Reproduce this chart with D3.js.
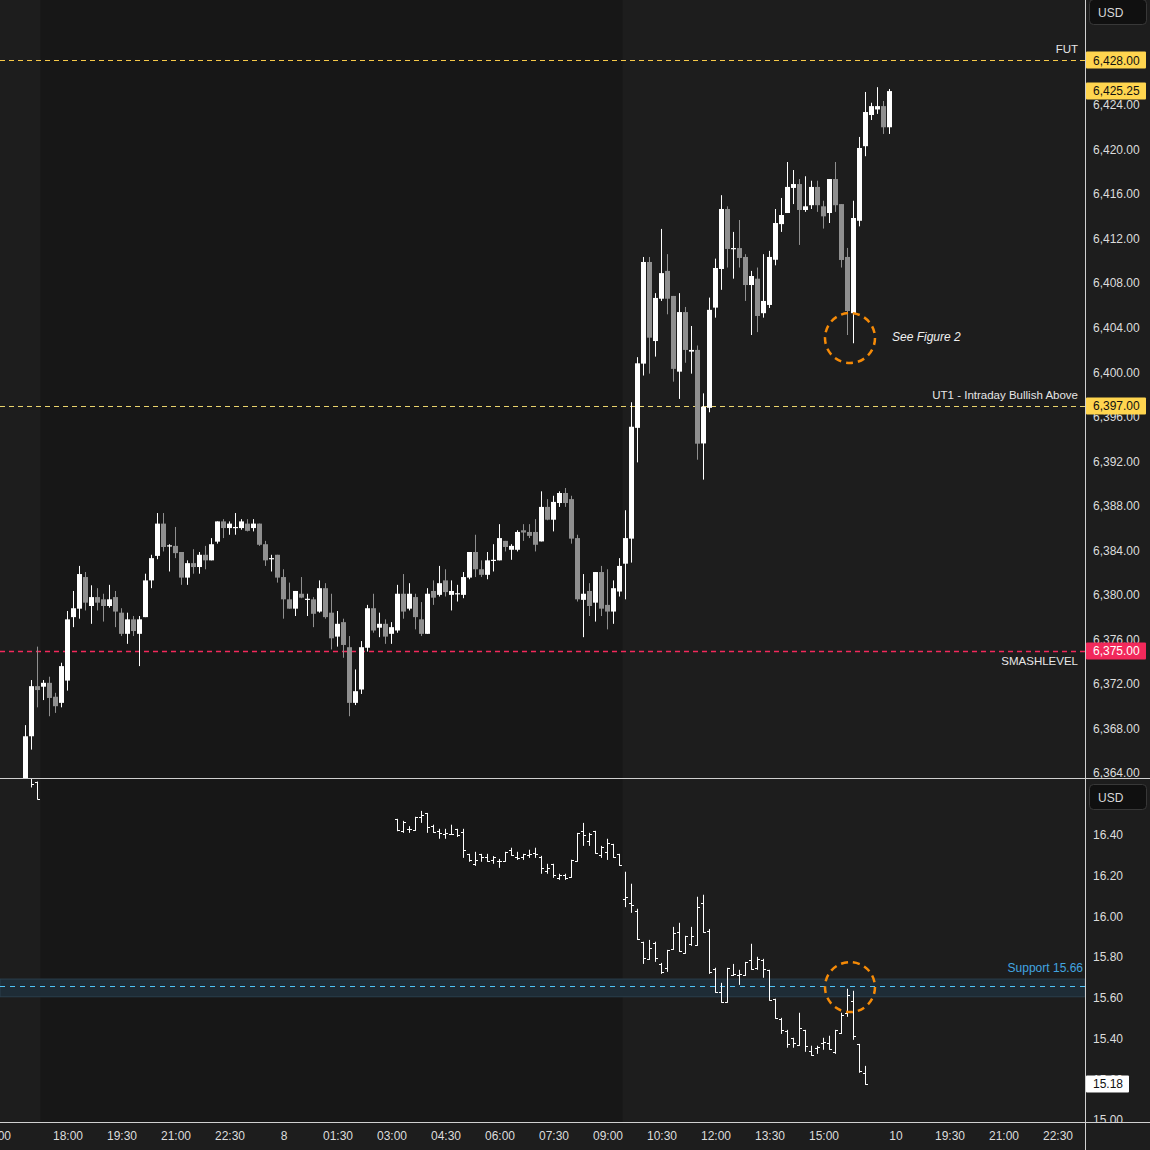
<!DOCTYPE html>
<html><head><meta charset="utf-8">
<script src="https://cdn.jsdelivr.net/npm/d3@7"></script>
<style>
html,body{margin:0;padding:0;background:#1d1d1d;}
svg{display:block;}
text{font-family:"Liberation Sans",Arial,sans-serif;}
</style></head><body>
<svg id="chart" width="1150" height="1150"></svg>
<script>
// ---------- DATA ----------
// ES 10-minute candles, bar index 0..144
const esOpen = [6362.0,6367.3,6371.8,6371.75,6372.1,6370.85,6370.3,6372.3,6378.0,6378.76,
6381.6,6379.0,6379.8,6379.6,6379.0,6379.8,6378.4,6376.5,6377.8,6376.5,
6378.0,6381.3,6383.5,6386.4,6384.35,6384.4,6383.85,6381.55,6382.85,6382.5,
6383.6,6383.1,6384.78,6386.6,6386.0,6386.05,6386.0,6386.4,6386.0,6386.4,
6384.55,6383.2,6383.6,6381.6,6379.6,6378.76,6380.1,6379.55,6379.6,6378.5,
6380.6,6378.4,6376.25,6377.55,6375.3,6370.3,6371.5,6375.25,6378.8,6377.05,
6377.4,6376.5,6376.8,6380.1,6378.76,6379.8,6377.8,6376.5,6380.35,6380.0,
6381.3,6380.0,6380.05,6380.0,6381.55,6383.85,6382.3,6381.8,6383.1,6383.1,
6384.85,6384.05,6384.05,6385.8,6385.65,6385.65,6384.8,6387.9,6386.75,6388.25,
6389.15,6388.6,6385.1,6379.55,6380.35,6379.3,6382.05,6379.1,6378.5,6380.3,
6382.8,6385.05,6395.0,6400.77,6409.9,6402.8,6406.6,6409.1,6406.85,6400.05,
6405.4,6401.85,6402.0,6393.6,6396.8,6405.8,6409.27,6414.66,6411.05,6411.15,
6410.35,6407.83,6408.4,6405.3,6406.04,6410.1,6413.3,6414.3,6416.55,6416.9,
6414.57,6415.0,6416.64,6414.9,6414.3,6417.35,6415.1,6410.35,6405.3,6413.6,
6420.3,6423.1,6423.6,6423.9,6422.0];
const esHigh = [6368.3,6372.35,6375.35,6372.35,6372.65,6371.2,6373.9,6378.55,6380.35,6382.6,
6382.05,6380.86,6380.6,6380.1,6380.9,6380.35,6378.8,6378.4,6378.1,6378.1,
6381.9,6383.6,6387.35,6387.35,6384.55,6386.1,6383.85,6383.1,6384.1,6383.85,
6384.4,6385.1,6386.6,6386.8,6386.6,6387.35,6386.8,6386.8,6386.8,6386.4,
6384.85,6383.6,6383.6,6382.3,6381.1,6380.35,6381.6,6380.1,6379.8,6381.3,
6381.05,6380.1,6378.55,6377.86,6376.3,6373.3,6375.85,6379.1,6380.1,6378.4,
6377.8,6377.55,6380.9,6381.87,6381.05,6380.1,6379.35,6380.6,6381.3,6382.6,
6382.3,6381.3,6380.9,6382.05,6383.85,6385.4,6383.1,6383.85,6384.55,6386.35,
6384.85,6384.55,6385.8,6386.35,6386.35,6386.8,6389.3,6388.6,6388.9,6389.3,
6389.6,6388.9,6385.4,6381.87,6381.05,6382.05,6382.6,6382.3,6381.3,6383.3,
6387.6,6397.3,6401.35,6410.35,6410.35,6407.1,6412.87,6410.6,6406.85,6407.1,
6405.86,6404.15,6402.4,6398.1,6406.7,6410.2,6415.9,6414.9,6412.6,6413.67,
6410.6,6409.1,6409.4,6410.6,6410.9,6414.66,6415.65,6418.88,6418.16,6417.35,
6417.6,6417.2,6417.2,6415.4,6417.35,6418.88,6415.1,6411.16,6415.4,6421.13,
6425.17,6424.2,6425.6,6424.36,6425.44];
const esLow = [6361.0,6366.1,6369.9,6370.55,6369.1,6369.4,6369.9,6371.4,6377.1,6377.86,
6378.6,6377.4,6378.6,6377.6,6378.85,6377.1,6376.3,6375.6,6376.3,6373.6,
6378.0,6380.6,6383.2,6383.9,6382.1,6383.3,6380.9,6380.9,6381.9,6381.9,
6382.3,6383.1,6384.6,6385.1,6385.4,6385.4,6385.85,6385.7,6385.7,6384.4,
6382.6,6382.1,6381.1,6377.86,6378.76,6378.1,6379.7,6378.1,6377.1,6378.4,
6377.86,6375.1,6375.35,6374.35,6369.1,6370.1,6371.1,6374.9,6376.6,6376.2,
6375.6,6375.6,6376.6,6377.86,6378.6,6376.9,6376.3,6376.5,6379.1,6379.85,
6379.85,6378.6,6379.4,6379.7,6381.4,6381.6,6381.6,6381.4,6382.1,6383.1,
6383.9,6383.15,6383.9,6384.85,6385.1,6383.9,6384.8,6386.7,6385.7,6387.9,
6387.9,6384.6,6379.4,6376.2,6378.1,6377.6,6378.1,6376.9,6377.4,6379.85,
6379.6,6382.9,6391.9,6399.7,6399.87,6401.4,6406.4,6405.2,6399.15,6397.6,
6400.85,6399.87,6392.14,6390.35,6396.4,6404.9,6407.4,6409.4,6408.4,6409.4,
6406.4,6403.34,6403.6,6404.9,6405.77,6409.6,6412.6,6414.3,6415.1,6411.43,
6414.4,6414.66,6414.4,6412.9,6413.4,6414.4,6409.4,6403.34,6402.6,6413.1,
6419.4,6422.65,6423.2,6421.4,6421.4];
const esClose = [6367.3,6371.8,6371.45,6372.1,6370.74,6370.0,6373.6,6377.8,6378.8,6381.87,
6379.3,6379.8,6379.3,6379.0,6379.6,6378.5,6376.5,6377.8,6376.75,6377.8,
6381.3,6383.3,6386.4,6384.3,6384.45,6383.75,6381.55,6382.85,6382.5,6383.6,
6383.1,6384.55,6386.6,6386.0,6386.4,6386.1,6386.6,6385.75,6386.4,6384.5,
6383.1,6383.3,6381.55,6379.6,6378.76,6380.35,6379.75,6379.65,6378.3,6380.6,
6378.0,6376.1,6377.4,6375.5,6370.3,6371.35,6375.3,6378.8,6376.8,6377.4,
6376.25,6377.1,6380.1,6378.5,6380.1,6378.0,6376.5,6380.1,6379.75,6381.05,
6380.25,6380.35,6380.15,6381.6,6383.85,6382.3,6381.8,6383.1,6383.15,6385.1,
6384.3,6384.4,6385.65,6385.6,6385.3,6384.5,6387.9,6386.75,6388.35,6389.15,
6388.25,6385.05,6379.6,6380.1,6379.0,6382.05,6378.76,6378.5,6380.6,6382.6,
6385.1,6395.1,6400.8,6409.9,6403.1,6406.67,6408.9,6406.6,6400.3,6405.4,
6402.0,6402.0,6393.58,6396.9,6405.6,6409.36,6414.66,6411.07,6411.15,6410.26,
6407.83,6408.64,6405.05,6406.4,6410.35,6413.4,6414.12,6416.64,6416.9,6414.57,
6414.9,6416.64,6415.0,6414.0,6417.35,6415.0,6410.08,6405.5,6413.85,6420.14,
6423.37,6423.9,6423.9,6422.0,6425.25];

// VIX 10-minute OHLC bars (bar indices shared with ES)
const vixIdx = [1,2].concat(d3.range(62,141));
const vixOpen = [16.68,16.66,
16.477,16.418,16.428,16.423,16.487,16.506,16.444,16.418,16.405,16.405,
16.428,16.413,16.305,16.256,16.305,16.290,16.276,16.271,16.271,16.325,
16.290,16.290,16.300,16.310,16.290,16.221,16.256,16.187,16.202,16.192,
16.271,16.418,16.369,16.418,16.300,16.315,16.354,16.305,
16.084,16.064,16.025,15.873,15.789,15.868,15.764,15.745,15.838,15.922,
15.819,15.863,15.858,16.064,15.927,15.740,15.627,15.578,15.710,15.710,
15.710,15.784,15.745,15.784,15.735,15.593,15.494,15.435,15.401,15.366,
15.440,15.337,15.352,15.376,15.376,15.332,15.425,15.524,15.583,15.371,15.229];
const vixHigh = [16.70,16.66,
16.477,16.467,16.441,16.487,16.516,16.506,16.448,16.428,16.428,16.448,
16.428,16.428,16.305,16.315,16.305,16.305,16.294,16.280,16.315,16.335,
16.315,16.305,16.325,16.335,16.295,16.256,16.256,16.207,16.207,16.276,
16.408,16.457,16.408,16.418,16.344,16.379,16.354,16.305,
16.217,16.158,16.035,15.873,15.882,15.873,15.769,15.833,15.946,15.966,
15.902,15.946,16.094,16.104,15.936,15.745,15.671,15.745,15.764,15.735,
15.774,15.863,15.799,15.789,15.735,15.593,15.499,15.440,15.401,15.524,
15.440,15.362,15.362,15.401,15.411,15.440,15.524,15.642,15.632,15.371,15.263];
const vixLow = [16.636,16.577,
16.421,16.413,16.413,16.423,16.462,16.413,16.413,16.384,16.384,16.403,
16.393,16.290,16.271,16.251,16.271,16.271,16.261,16.241,16.271,16.300,
16.280,16.280,16.290,16.290,16.212,16.212,16.192,16.182,16.182,16.192,
16.271,16.349,16.349,16.310,16.290,16.280,16.290,16.251,
16.048,16.020,15.887,15.769,15.789,15.779,15.720,15.730,15.838,15.828,
15.819,15.858,15.858,15.922,15.720,15.627,15.578,15.578,15.710,15.666,
15.710,15.740,15.740,15.701,15.588,15.499,15.425,15.357,15.357,15.366,
15.337,15.317,15.327,15.347,15.347,15.327,15.425,15.509,15.396,15.234,15.175];
const vixClose = [16.65,16.577,
16.425,16.464,16.428,16.487,16.497,16.438,16.413,16.408,16.408,16.405,
16.398,16.326,16.276,16.276,16.294,16.271,16.290,16.271,16.315,16.300,
16.285,16.305,16.305,16.305,16.236,16.236,16.202,16.202,16.187,16.276,
16.408,16.398,16.403,16.310,16.339,16.359,16.290,16.251,
16.094,16.054,15.887,15.794,15.843,15.794,15.725,15.833,15.917,15.828,
15.902,15.902,16.045,15.922,15.725,15.627,15.578,15.745,15.715,15.715,
15.774,15.740,15.789,15.740,15.588,15.499,15.440,15.371,15.376,15.450,
15.362,15.317,15.357,15.381,15.347,15.440,15.514,15.612,15.411,15.239,15.175];

// Axes
const esTicks = [6364,6368,6372,6376,6380,6384,6388,6392,6396,6400,6404,6408,6412,6416,6420,6424];
const vixTicks = [15.00,15.20,15.40,15.60,15.80,16.00,16.20,16.40];
const timeIdx = [-5,7,16,25,34,43,52,61,70,79,88,97,106,115,124,133,145,154,163,172];
const timeLabels = ["15:00","18:00","19:30","21:00","22:30","8","01:30","03:00","04:30","06:00","07:30","09:00","10:30","12:00","13:30","15:00","10","19:30","21:00","22:30"];
// Extended-hours (darker) session range, in bar indices
const extSessions = [[3,99]];

// Levels
const levelNames = ["FUT","UT1 - Intraday Bullish Above","SMASHLEVEL"];
const levelValues = [6428.00,6397.00,6375.00];
const lastPrice = 6425.25;
const vixLast = 15.18;
const supportLevel = 15.66;
const supportBand = [15.605,15.692];
const noteIdx = 137;

// ---------- LAYOUT ----------
const svg = d3.select("#chart");
const plotR = 1085, topB = 778, botT = 779, botB = 1122;
const x = d3.scaleLinear().domain([0,144]).range([25.5, 25.5+6*144]);
const yTop = d3.scaleLinear().domain([6364,6424]).range([773,105]);
const yBot = d3.scaleLinear().domain([15.0,16.4]).range([1119.9,835]);
const BG = "#1d1d1d", EXT = "#171717";

svg.append("rect").attr("width",1150).attr("height",1150).attr("fill",BG);

const defs = svg.append("defs");
defs.append("clipPath").attr("id","clipTop").append("rect").attr("x",0).attr("y",0).attr("width",plotR).attr("height",topB);
defs.append("clipPath").attr("id","clipBot").append("rect").attr("x",0).attr("y",botT).attr("width",plotR).attr("height",botB-botT);

const gTop = svg.append("g").attr("clip-path","url(#clipTop)");
const gBot = svg.append("g").attr("clip-path","url(#clipBot)");

// session shading
[[gTop,0,topB],[gBot,botT,botB]].forEach(([g,y0,y1])=>{
  g.selectAll("rect.ext").data(extSessions).join("rect").attr("class","ext")
    .attr("x",d=>x(d[0])-3).attr("width",d=>Math.min(plotR,x(d[1])+3)-(x(d[0])-3))
    .attr("y",y0).attr("height",y1-y0).attr("fill",EXT);
});

// level lines (top)
const levelColors = ["#f7c948","#e9d36c","#f2295b"];
const levelWidths = [1,1,1.5];
gTop.selectAll("line.lvl").data(levelValues).join("line").attr("class","lvl")
  .attr("x1",0).attr("x2",plotR)
  .attr("y1",d=>Math.round(yTop(d))+0.5).attr("y2",d=>Math.round(yTop(d))+0.5)
  .attr("stroke",(d,i)=>levelColors[i]).attr("stroke-width",(d,i)=>levelWidths[i])
  .attr("stroke-dasharray","5,4");

// support band (bottom)
gBot.append("rect").attr("x",0).attr("width",plotR)
  .attr("y",yBot(supportBand[1])).attr("height",yBot(supportBand[0])-yBot(supportBand[1]))
  .attr("fill","#1e2c36").attr("stroke","#2b3f4d").attr("stroke-width",1);
gBot.append("line").attr("x1",0).attr("x2",plotR)
  .attr("y1",Math.round(yBot(supportLevel))+0.5).attr("y2",Math.round(yBot(supportLevel))+0.5)
  .attr("stroke","#4fc3f7").attr("stroke-width",1).attr("stroke-dasharray","5,5");

// candles
const candles = esOpen.map((o,i)=>({i,o,h:esHigh[i],l:esLow[i],c:esClose[i]}));
const UP="#ffffff", DN="#8f8f8f";
const cg = gTop.selectAll("g.c").data(candles).join("g").attr("class","c");
cg.append("line")
  .attr("x1",d=>x(d.i)).attr("x2",d=>x(d.i))
  .attr("y1",d=>yTop(d.h)).attr("y2",d=>yTop(d.l))
  .attr("stroke",d=>d.c>=d.o?UP:DN).attr("stroke-width",1);
cg.append("rect")
  .attr("x",d=>x(d.i)-2.5).attr("width",5)
  .attr("y",d=>yTop(Math.max(d.o,d.c)))
  .attr("height",d=>Math.max(1.2,Math.abs(yTop(d.o)-yTop(d.c))))
  .attr("fill",d=>d.c>=d.o?UP:DN);

// VIX OHLC bars
const vbars = vixIdx.map((idx,k)=>({i:idx,o:vixOpen[k],h:vixHigh[k],l:vixLow[k],c:vixClose[k]}));
const vg = gBot.selectAll("g.v").data(vbars).join("g").attr("class","v")
  .attr("stroke","#ffffff").attr("stroke-width",1);
vg.append("line").attr("x1",d=>x(d.i)).attr("x2",d=>x(d.i))
  .attr("y1",d=>yBot(d.h)-0.5).attr("y2",d=>yBot(d.l)+0.5);
vg.append("line").attr("x1",d=>x(d.i)-2.5).attr("x2",d=>x(d.i))
  .attr("y1",d=>Math.round(yBot(d.o))+0.5).attr("y2",d=>Math.round(yBot(d.o))+0.5);
vg.append("line").attr("x1",d=>x(d.i)).attr("x2",d=>x(d.i)+2.5)
  .attr("y1",d=>Math.round(yBot(d.c))+0.5).attr("y2",d=>Math.round(yBot(d.c))+0.5);

// circles
gTop.append("circle").attr("cx",x(noteIdx)+2.5).attr("cy",yTop(esLow[noteIdx])+3).attr("r",25)
  .attr("fill","none").attr("stroke","#f58a07").attr("stroke-width",2.5).attr("stroke-dasharray","7,5");
gBot.append("circle").attr("cx",x(noteIdx)+2.5).attr("cy",yBot(supportLevel)+1.5).attr("r",25)
  .attr("fill","none").attr("stroke","#f58a07").attr("stroke-width",2.5).attr("stroke-dasharray","7,5");

// annotation texts
svg.append("text").attr("x",892).attr("y",yTop(esLow[noteIdx])+6)
  .attr("fill","#f0f0f0").attr("font-size",12).attr("font-style","italic").text("See Figure 2");
const lblDy = [-7,-7,14];
levelNames.forEach((n,i)=>{
  svg.append("text").attr("x",1078).attr("y",yTop(levelValues[i])+lblDy[i])
    .attr("text-anchor","end").attr("fill","#e6e6e6").attr("font-size",11.5).text(n);
});
svg.append("text").attr("x",1083).attr("y",yBot(supportLevel)-14)
  .attr("text-anchor","end").attr("fill","#42a5e0").attr("font-size",12).text("Support " + supportLevel.toFixed(2));

// ---------- AXES ----------
svg.append("rect").attr("x",plotR).attr("y",0).attr("width",1150-plotR).attr("height",1150).attr("fill",BG);
svg.append("rect").attr("x",0).attr("y",botB).attr("width",plotR).attr("height",1150-botB).attr("fill",BG);

const axTop = svg.append("g").attr("transform",`translate(${plotR},0)`)
  .call(d3.axisRight(yTop).tickValues(esTicks).tickFormat(d3.format(",.2f")).tickSize(0).tickPadding(8));
const axBot = svg.append("g").attr("transform",`translate(${plotR},0)`)
  .call(d3.axisRight(yBot).tickValues(vixTicks).tickFormat(d3.format(".2f")).tickSize(0).tickPadding(8));
const axX = svg.append("g").attr("transform",`translate(0,${botB})`)
  .call(d3.axisBottom(x).tickValues(timeIdx).tickFormat((d,i)=>timeLabels[i]).tickSize(0).tickPadding(9));
[axTop,axBot,axX].forEach(a=>{
  a.select(".domain").remove();
  a.selectAll("text").attr("fill","#dcdcdc").attr("font-size",12).attr("font-family","Liberation Sans, Arial, sans-serif");
});
// clip the lower 15.00 label under the separator
axBot.attr("clip-path","url(#clipAxBot)");
defs.append("clipPath").attr("id","clipAxBot").append("rect").attr("x",-10).attr("y",botT).attr("width",80).attr("height",botB-botT);

// price tags
function tag(yv, label, fill, color, w){
  const g = svg.append("g");
  g.append("rect").attr("x",plotR+1).attr("y",Math.round(yv)-8.5).attr("width",w).attr("height",17).attr("fill",fill).attr("rx",1);
  g.append("text").attr("x",plotR+8).attr("y",yv).attr("dy","0.35em").attr("fill",color).attr("font-size",12).text(label);
}
const fmt = d3.format(",.2f");
tag(yTop(levelValues[0]), fmt(levelValues[0]), "#ffd54f", "#111", 60);
tag(yTop(lastPrice), fmt(lastPrice), "#ffd54f", "#111", 60);
tag(yTop(levelValues[1]), fmt(levelValues[1]), "#ffd54f", "#111", 60);
tag(yTop(levelValues[2]), fmt(levelValues[2]), "#f2295b", "#ffffff", 60);
tag(yBot(vixLast)+1, vixLast.toFixed(2), "#ffffff", "#111", 43);

// separators
svg.append("line").attr("x1",0).attr("x2",1150).attr("y1",topB+0.5).attr("y2",topB+0.5).attr("stroke","#d0d0d0");
svg.append("line").attr("x1",0).attr("x2",1150).attr("y1",botB+0.5).attr("y2",botB+0.5).attr("stroke","#d0d0d0");
svg.append("line").attr("x1",plotR+0.5).attr("x2",plotR+0.5).attr("y1",0).attr("y2",1150).attr("stroke","#d0d0d0");

// USD boxes
[0,785].forEach(y0=>{
  svg.append("rect").attr("x",1089.5).attr("y",y0-0.5).attr("width",57).attr("height",25).attr("rx",4)
    .attr("fill","#101010").attr("stroke","#383838");
  svg.append("text").attr("x",1098).attr("y",y0+13).attr("dy","0.35em").attr("fill","#d8d8d8").attr("font-size",12).text("USD");
});
</script>
</body></html>
